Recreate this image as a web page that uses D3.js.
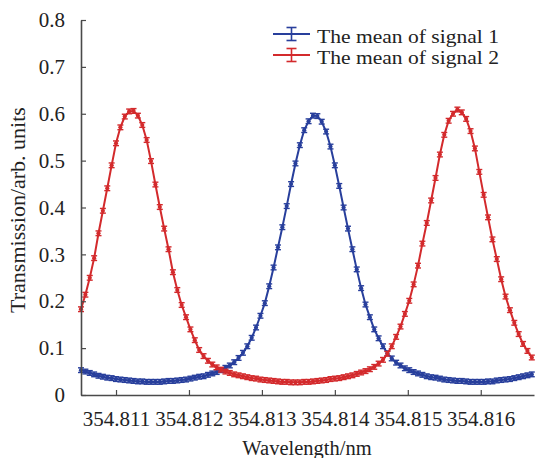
<!DOCTYPE html>
<html>
<head>
<meta charset="utf-8">
<script src="https://cdn.jsdelivr.net/npm/d3@7"></script>
<style>
  body { margin: 0; background: #fff; }
  svg text { font-family: "Liberation Serif", "Times New Roman", serif; fill: #222; }
</style>
</head>
<body>
<svg id="chart" width="535" height="458"></svg>
<script>
// sampled wavelengths (nm)
var wavelengths = [
  354.81052, 354.81058, 354.81064, 354.81070, 354.81076, 354.81082, 354.81088, 354.81094, 354.81100, 354.81106,
  354.81112, 354.81118, 354.81124, 354.81130, 354.81136, 354.81142, 354.81148, 354.81154, 354.81160, 354.81166,
  354.81172, 354.81178, 354.81184, 354.81190, 354.81196, 354.81202, 354.81208, 354.81214, 354.81220, 354.81226,
  354.81232, 354.81238, 354.81244, 354.81250, 354.81256, 354.81262, 354.81268, 354.81274, 354.81280, 354.81286,
  354.81292, 354.81298, 354.81304, 354.81310, 354.81316, 354.81322, 354.81328, 354.81334, 354.81340, 354.81346,
  354.81352, 354.81358, 354.81364, 354.81370, 354.81376, 354.81382, 354.81388, 354.81394, 354.81400, 354.81406,
  354.81412, 354.81418, 354.81424, 354.81430, 354.81436, 354.81442, 354.81448, 354.81454, 354.81460, 354.81466,
  354.81472, 354.81478, 354.81484, 354.81490, 354.81496, 354.81502, 354.81508, 354.81514, 354.81520, 354.81526,
  354.81532, 354.81538, 354.81544, 354.81550, 354.81556, 354.81562, 354.81568, 354.81574, 354.81580, 354.81586,
  354.81592, 354.81598, 354.81604, 354.81610, 354.81616, 354.81622, 354.81628, 354.81634, 354.81640, 354.81646,
  354.81652, 354.81658, 354.81664, 354.81670
];

// mean transmission, signal 1 (blue)
var signal1 = [
  0.053, 0.050, 0.047, 0.044, 0.041, 0.039, 0.037, 0.036, 0.034, 0.033,
  0.032, 0.031, 0.030, 0.029, 0.029, 0.028, 0.028, 0.028, 0.028, 0.029,
  0.030, 0.030, 0.031, 0.032, 0.033, 0.035, 0.037, 0.039, 0.040, 0.043,
  0.046, 0.049, 0.053, 0.058, 0.063, 0.070, 0.079, 0.090, 0.104, 0.122,
  0.144, 0.169, 0.196, 0.232, 0.272, 0.315, 0.358, 0.403, 0.450, 0.494,
  0.533, 0.565, 0.584, 0.596, 0.595, 0.583, 0.562, 0.530, 0.490, 0.446,
  0.400, 0.355, 0.311, 0.268, 0.228, 0.193, 0.166, 0.140, 0.121, 0.104,
  0.089, 0.078, 0.069, 0.063, 0.057, 0.053, 0.049, 0.046, 0.043, 0.040,
  0.038, 0.037, 0.035, 0.033, 0.032, 0.031, 0.030, 0.030, 0.029, 0.028,
  0.028, 0.028, 0.028, 0.029, 0.029, 0.031, 0.032, 0.033, 0.034, 0.036,
  0.038, 0.040, 0.042, 0.044
];

// mean transmission, signal 2 (red)
var signal2 = [
  0.183, 0.214, 0.250, 0.292, 0.345, 0.393, 0.441, 0.490, 0.537, 0.571,
  0.594, 0.605, 0.606, 0.596, 0.576, 0.544, 0.499, 0.449, 0.401, 0.355,
  0.311, 0.262, 0.224, 0.192, 0.166, 0.140, 0.117, 0.096, 0.083, 0.073,
  0.065, 0.059, 0.054, 0.050, 0.047, 0.044, 0.042, 0.040, 0.038, 0.036,
  0.035, 0.033, 0.032, 0.031, 0.030, 0.029, 0.028, 0.028, 0.027, 0.027,
  0.027, 0.028, 0.028, 0.029, 0.030, 0.031, 0.032, 0.034, 0.035, 0.036,
  0.038, 0.040, 0.042, 0.045, 0.048, 0.051, 0.055, 0.060, 0.067, 0.075,
  0.088, 0.104, 0.124, 0.146, 0.173, 0.201, 0.236, 0.276, 0.323, 0.367,
  0.415, 0.463, 0.513, 0.555, 0.585, 0.600, 0.609, 0.603, 0.589, 0.563,
  0.526, 0.476, 0.427, 0.379, 0.332, 0.290, 0.247, 0.210, 0.181, 0.154,
  0.130, 0.109, 0.094, 0.080
];

// half length of the error bars
var signal1Err = 0.005;
var signal2Err = 0.005;

var xTicks = [354.811, 354.812, 354.813, 354.814, 354.815, 354.816];
var yTicks = [0, 0.1, 0.2, 0.3, 0.4, 0.5, 0.6, 0.7, 0.8];
var seriesNames = ["The mean of signal 1", "The mean of signal 2"];

var colors = ["#283f9c", "#d32a2c"];
var axisColor = "#4a4a4a";

var margin = {top: 20, right: 1, bottom: 63, left: 81},
    width = 535 - margin.left - margin.right,
    height = 458 - margin.top - margin.bottom;

var svg = d3.select("#chart");
var g = svg.append("g")
    .attr("transform", "translate(" + margin.left + "," + margin.top + ")");

var x = d3.scaleLinear()
    .domain([354.81052, 354.81673])
    .range([0, width]);

var y = d3.scaleLinear()
    .domain([0, 0.8])
    .range([height, 0]);

var series = [
  {name: seriesNames[0], values: signal1, err: signal1Err, color: colors[0]},
  {name: seriesNames[1], values: signal2, err: signal2Err, color: colors[1]}
];

g.append("clipPath").attr("id", "plotClip")
  .append("rect")
    .attr("x", -4).attr("y", -10)
    .attr("width", width + 10).attr("height", height + 10);

var line = d3.line()
    .x(function (d, i) { return x(wavelengths[i]); })
    .y(function (d) { return y(d); });

series.forEach(function (s) {
  var sg = g.append("g").attr("clip-path", "url(#plotClip)");

  sg.append("path")
    .datum(s.values)
    .attr("fill", "none")
    .attr("stroke", s.color)
    .attr("stroke-width", 2)
    .attr("d", line);

  var pts = sg.selectAll(".pt")
    .data(s.values)
    .enter()
    .append("g")
    .attr("transform", function (d, i) { return "translate(" + x(wavelengths[i]) + ",0)"; });

  // vertical error bar
  pts.append("line")
    .attr("x1", 0).attr("x2", 0)
    .attr("y1", function (d) { return y(d - s.err); })
    .attr("y2", function (d) { return y(d + s.err); })
    .attr("stroke", s.color)
    .attr("stroke-width", 1.5);

  // caps
  [-1, 1].forEach(function (sign) {
    pts.append("line")
      .attr("x1", -3).attr("x2", 3)
      .attr("y1", function (d) { return y(d + sign * s.err); })
      .attr("y2", function (d) { return y(d + sign * s.err); })
      .attr("stroke", s.color)
      .attr("stroke-width", 1.4);
  });

  pts.append("circle")
    .attr("cy", function (d) { return y(d); })
    .attr("r", 2.1)
    .attr("fill", s.color);
});

// axes, ticks pointing inward
var xAxis = g.append("g")
    .attr("transform", "translate(0," + height + ")")
    .call(d3.axisBottom(x)
      .tickValues(xTicks)
      .tickFormat(d3.format(".3f"))
      .tickSizeInner(-5)
      .tickSizeOuter(0)
      .tickPadding(16));

var yAxis = g.append("g")
    .call(d3.axisLeft(y)
      .tickValues(yTicks)
      .tickFormat(function (d) { return d === 0 ? "0" : d3.format(".1f")(d); })
      .tickSizeInner(-5)
      .tickSizeOuter(0)
      .tickPadding(16));

[xAxis, yAxis].forEach(function (ax) {
  ax.attr("font-family", null);
  ax.select(".domain").attr("stroke", axisColor).attr("stroke-width", 1.6);
  ax.selectAll(".tick line").attr("stroke", axisColor).attr("stroke-width", 1.2);
  ax.selectAll(".tick text")
    .attr("fill", "#222")
    .style("font-family", "'Liberation Serif', 'Times New Roman', serif")
    .style("font-size", "21px");
});

// axis titles
svg.append("text")
  .attr("x", margin.left + 226)
  .attr("y", 455)
  .attr("text-anchor", "middle")
  .style("font-size", "20.5px")
  .text("Wavelength/nm");

svg.append("text")
  .attr("transform", "translate(25,210) rotate(-90)")
  .attr("text-anchor", "middle")
  .style("font-size", "22px")
  .text("Transmission/arb. units");

// legend
var legend = svg.append("g");
series.forEach(function (s, i) {
  var ly = 34 + i * 21;
  var row = legend.append("g").attr("transform", "translate(0," + ly + ")");
  row.append("line")
    .attr("x1", 273).attr("x2", 310)
    .attr("y1", 0).attr("y2", 0)
    .attr("stroke", s.color).attr("stroke-width", 1.8);
  row.append("line")
    .attr("x1", 291.5).attr("x2", 291.5)
    .attr("y1", -6.5).attr("y2", 6.5)
    .attr("stroke", s.color).attr("stroke-width", 1.6);
  [-6.5, 6.5].forEach(function (dy) {
    row.append("line")
      .attr("x1", 286.5).attr("x2", 296.5)
      .attr("y1", dy).attr("y2", dy)
      .attr("stroke", s.color).attr("stroke-width", 1.6);
  });
  row.append("text")
    .attr("x", 317)
    .attr("y", 8.5)
    .attr("textLength", 182)
    .attr("lengthAdjust", "spacingAndGlyphs")
    .style("font-size", "18px")
    .text(s.name);
});
</script>
</body>
</html>
